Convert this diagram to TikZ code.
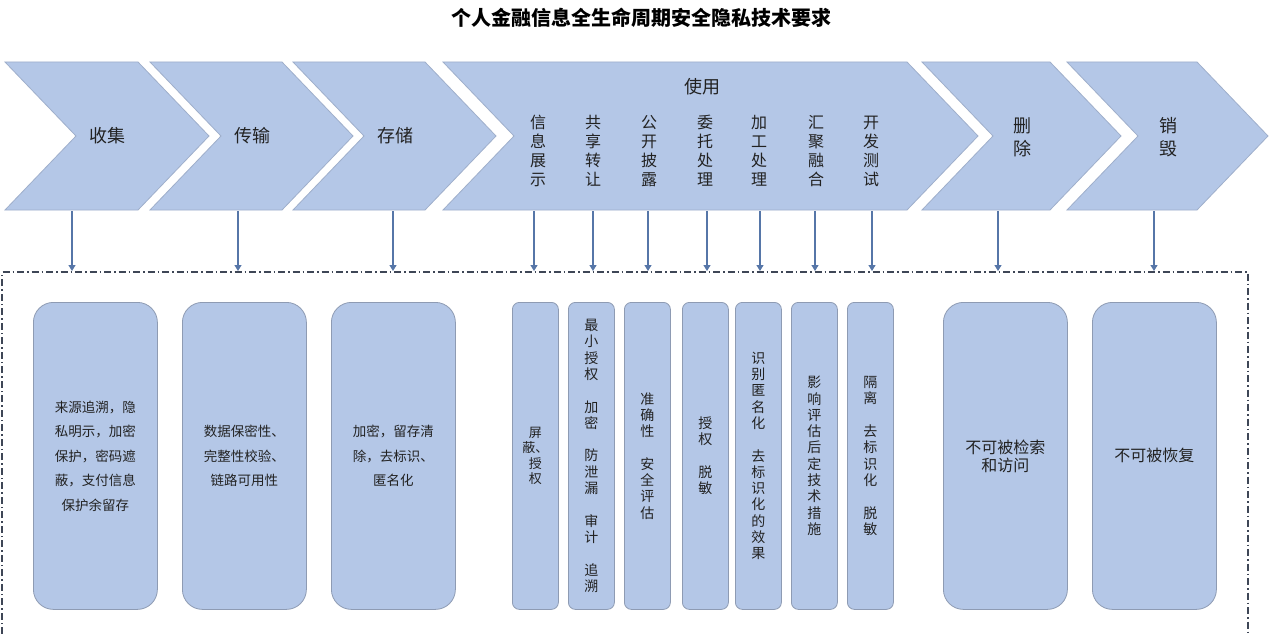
\documentclass[tikz,border=0pt]{standalone}
\usepackage{fontspec}
\setmainfont{Noto Sans CJK SC}
\usetikzlibrary{arrows.meta}
\definecolor{fillb}{HTML}{B4C7E7}
\definecolor{edgeb}{HTML}{9FAFCB}
\definecolor{boxedge}{HTML}{8E9BB3}
\definecolor{arr}{HTML}{5676A8}
\definecolor{dashc}{HTML}{3E4656}
\definecolor{txt}{HTML}{222222}
\begin{document}
\begin{tikzpicture}[x=1pt,y=-1pt,
  chevron/.style={fill=fillb, draw=edgeb, line width=0.8pt, line join=miter},
  lbl/.style={text=txt, font=\fontsize{18}{23}\selectfont, inner sep=0pt, align=center},
  vlbl/.style={text=txt, font=\fontsize{16}{19}\selectfont, align=center, inner sep=0pt},
  widebox/.style={fill=fillb, draw=boxedge, line width=0.8pt, rounded corners=20pt,
    minimum width=124pt, minimum height=307pt, inner sep=0pt, anchor=north west,
    text=txt, align=center, font=\fontsize{13.5}{24.5}\selectfont},
  narrowbox/.style={fill=fillb, draw=boxedge, line width=0.8pt, rounded corners=7pt,
    minimum width=46pt, minimum height=307pt, inner sep=0pt, anchor=north west,
    text=txt, align=center, font=\fontsize{14}{16.3}\selectfont},
  arrowst/.style={draw=arr, line width=1.2pt, -{Triangle[length=6pt,width=7pt]}},
  dashbox/.style={draw=dashc, line width=1.1pt, dash pattern=on 7pt off 3pt on 1.5pt off 3pt}
]
\useasboundingbox (0,0) rectangle (1269,634);
\fill[white] (0,0) rectangle (1269,634);

% title
\node[text=black, font=\fontsize{20}{24}\selectfont\bfseries, inner sep=0pt] (title) at (641,18) {个人金融信息全生命周期安全隐私技术要求};

% chevrons
\newcommand\mychev[3]{%
  \draw[chevron] (#1,62) -- (#2,62) -- ({#2+71},136) -- (#2,210) -- (#1,210) -- ({#1+71},136) -- cycle;
  \coordinate (#3) at ({(#1+#2)/2},136);}
\mychev{5}{138}{c1}
\mychev{150}{282}{c2}
\mychev{293}{425}{c3}
\mychev{443}{907}{c4}
\mychev{922}{1050}{c5}
\mychev{1067}{1197}{c6}

\node[lbl] (l1) at (107,136) {收集};
\node[lbl] (l2) at (252,136) {传输};
\node[lbl] (l3) at (395,136) {存储};
\node[lbl] (l4) at (702,87) {使用};
\node[lbl] (l5) at (1022,137) {删\\除};
\node[lbl] (l6) at (1168,137) {销\\毁};

\node[vlbl] (u1) at (538,151) {信\\息\\展\\示};
\node[vlbl] (u2) at (593,151) {共\\享\\转\\让};
\node[vlbl] (u3) at (649,151) {公\\开\\披\\露};
\node[vlbl] (u4) at (705,151) {委\\托\\处\\理};
\node[vlbl] (u5) at (759,151) {加\\工\\处\\理};
\node[vlbl] (u6) at (816,151) {汇\\聚\\融\\合};
\node[vlbl] (u7) at (871,151) {开\\发\\测\\试};

% dashed frame
\coordinate (fbl) at (2,634);
\coordinate (ftl) at (2,272);
\coordinate (ftr) at (1248,272);
\coordinate (fbr) at (1248,634);
\draw[dashbox] (fbl) -- (ftl) -- (ftr) -- (fbr);

% arrows
\foreach \i/\x in {1/72,2/238,3/393,4/534,5/593,6/648,7/707,8/760,9/815,10/872,11/998,12/1154}{
  \coordinate (s\i) at (\x,211);
  \coordinate (e\i) at (\x,271);
  \draw[arrowst] (s\i) -- (e\i);
}

% boxes
\node[widebox] (b1) at (33,302) {来源追溯，隐\\私明示，加密\\保护，密码遮\\蔽，支付信息\\保护余留存};
\node[widebox] (b2) at (182,302) {数据保密性、\\完整性校验、\\链路可用性};
\node[widebox] (b3) at (331,302) {加密，留存清\\除，去标识、\\匿名化};

\node[narrowbox, font=\fontsize{13}{15.5}\selectfont] (n1) at (512,302) {屏\\蔽、\\授\\权};
\node[narrowbox] (n2) at (568,302) {最\\小\\授\\权\\~\\加\\密\\~\\防\\泄\\漏\\~\\审\\计\\~\\追\\溯};
\node[narrowbox] (n3) at (624,302) {准\\确\\性\\~\\安\\全\\评\\估};
\node[narrowbox] (n4) at (682,302) {授\\权\\~\\脱\\敏};
\node[narrowbox] (n5) at (735,302) {识\\别\\匿\\名\\化\\~\\去\\标\\识\\化\\的\\效\\果};
\node[narrowbox] (n6) at (791,302) {影\\响\\评\\估\\后\\定\\技\\术\\措\\施};
\node[narrowbox] (n7) at (847,302) {隔\\离\\~\\去\\标\\识\\化\\~\\脱\\敏};

\node[widebox, font=\fontsize{16}{18}\selectfont] (b4) at (943,302) {不可被检索\\和访问};
\node[widebox, font=\fontsize{16}{18}\selectfont] (b5) at (1092,302) {不可被恢复};
\end{tikzpicture}
\end{document}
